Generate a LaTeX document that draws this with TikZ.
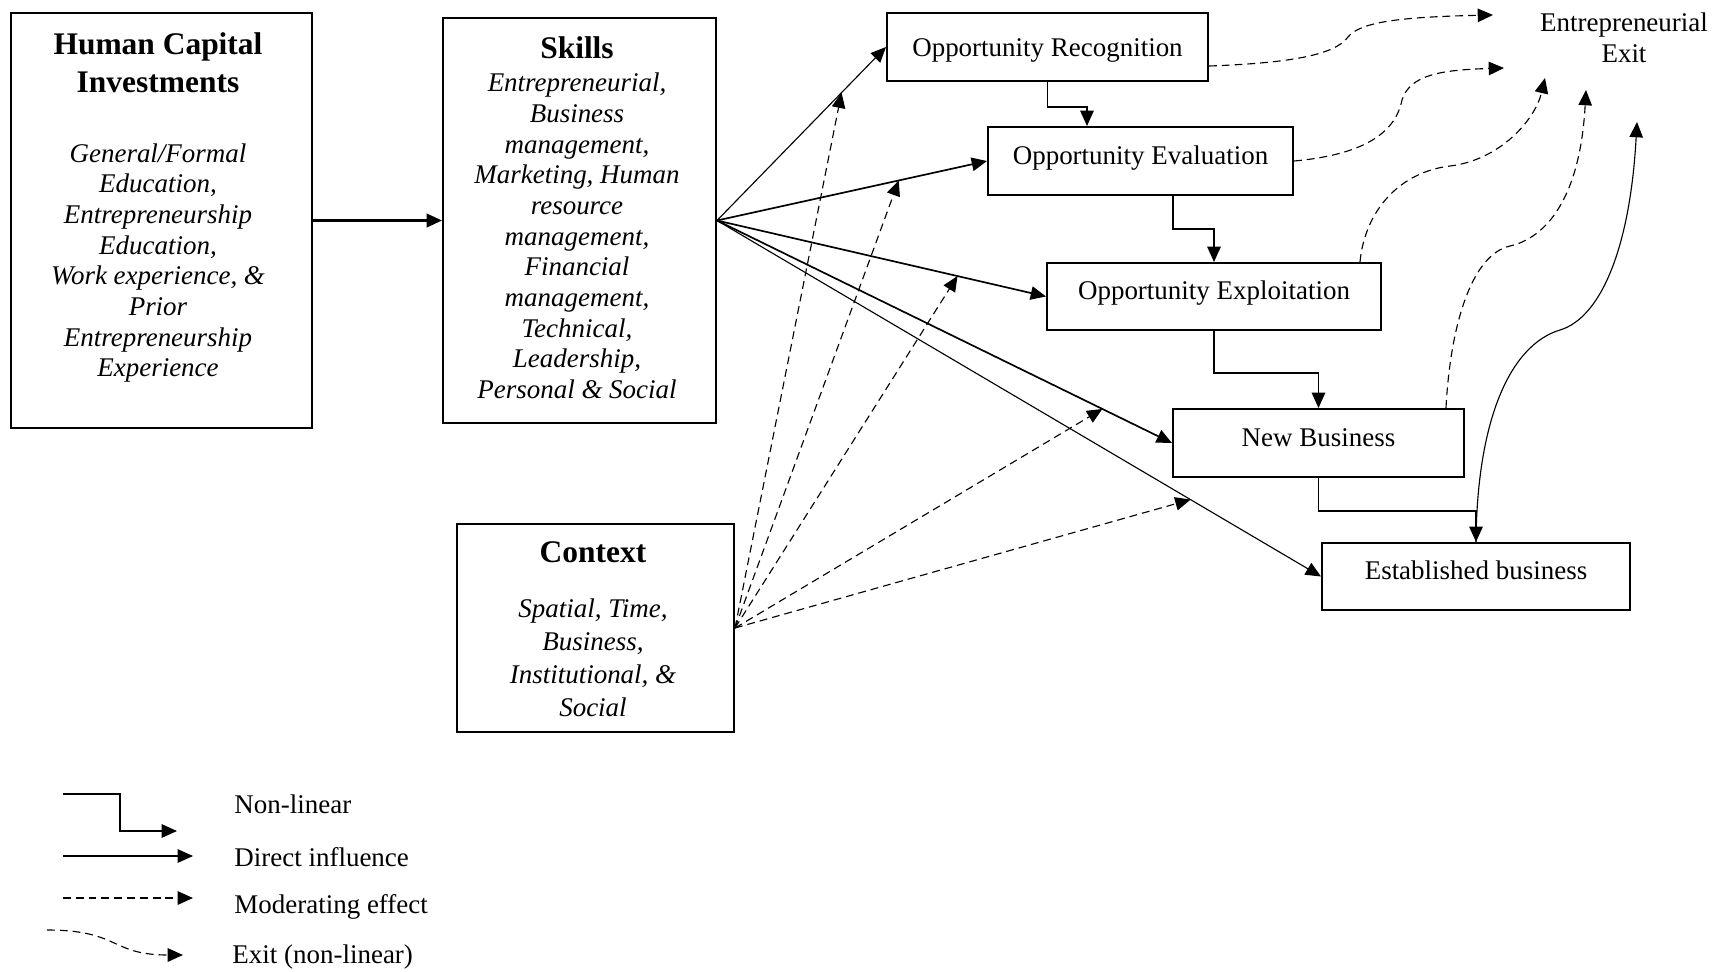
\documentclass[tikz,border=0pt]{standalone}
\usepackage{fontspec}
\setmainfont{Liberation Serif}
\usetikzlibrary{arrows.meta,calc,fit}
\begin{document}
\begin{tikzpicture}[x=0.445pt,y=-0.445pt,
  font=\fontsize{12pt}{13.8pt}\selectfont,
  box/.style={draw, line width=0.9pt, inner sep=0pt},
  obox/.style 2 args={box, minimum width=#1*0.445pt, minimum height=#2*0.445pt, text height=10.8pt, text depth=2.6pt},
  tipst/.style={-{Triangle[length=6.8pt,width=6pt]}},
  direct/.style={tipst, line width=0.5pt},
  directb/.style={tipst, line width=0.75pt},
  nonlin/.style={tipst, line width=0.5pt},
  moder/.style={tipst, line width=0.5pt, dash pattern=on 3.5pt off 2.2pt},
  exitc/.style={moder},
  titletxt/.style={font=\fontsize{14pt}{17pt}\selectfont\bfseries, align=center},
  bodytxt/.style={font=\fontsize{12pt}{13.65pt}\selectfont\itshape, align=center},
  raised/.style={text height=10.8pt, text depth=8pt},
  legtxt/.style={anchor=west, inner sep=0pt}
]
\useasboundingbox (0,0) rectangle (1715,971);

% main boxes
\node[box, fit={(11,13) (312,428)}] (hci) {};
\node[titletxt] (hcit) at (158,63) {Human Capital\\Investments};
\node[bodytxt] (hcib) at (158,263) {General/Formal\\Education,\\Entrepreneurship\\Education,\\Work experience, \&\\Prior\\Entrepreneurship\\Experience};

\node[box, fit={(443,18) (716,423)}] (skills) {};
\node[titletxt] (skillst) at (577,48) {Skills};
\node[bodytxt] (skillsb) at (577,236) {Entrepreneurial,\\Business\\management,\\Marketing, Human\\resource\\management,\\Financial\\management,\\Technical,\\Leadership,\\Personal \& Social};

\node[box, fit={(457,524) (734,732)}] (ctx) {};
\node[titletxt] (ctxt) at (593,552) {Context};
\node[bodytxt, font=\fontsize{12pt}{14.7pt}\selectfont\itshape] (ctxb) at (593,658) {Spatial, Time,\\Business,\\Institutional, \&\\Social};

\node[obox={321}{68}] (or) at (1047.5,47) {Opportunity Recognition};
\node[obox={305}{68}, raised] (oe) at (1140.5,161) {Opportunity Evaluation};
\node[obox={334}{67}, raised] (ox) at (1214,296.5) {Opportunity Exploitation};
\node[obox={291}{68}, raised] (nb) at (1318.5,443) {New Business};
\node[obox={308}{67}, raised] (eb) at (1476,576.5) {Established business};

\node[align=center] (exitlbl) at (1624,38) {Entrepreneurial\\Exit};

% direct influences
\draw[directb, line width=1pt] (hci.east) -- (skills.west);
\draw[direct] (skills.east) -- (or.west);
\draw[directb] (skills.east) -- (oe.west);
\draw[directb] (skills.east) -- (ox.west);
\draw[directb] (skills.east) -- (nb.west);
\draw[direct] (skills.east) -- (eb.west);

% moderating effects
\coordinate (m1) at ($(skills.east)!0.737!(or.west)$);
\coordinate (m2) at ($(skills.east)!0.673!(oe.west)$);
\coordinate (m3) at ($(skills.east)!0.731!(ox.west)$);
\coordinate (m4) at ($(skills.east)!0.847!(nb.west)$);
\coordinate (m5) at ($(skills.east)!0.784!(eb.west)$);
\foreach \m in {m1,m2,m3,m4,m5}{\draw[moder] (ctx.east) -- (\m);}

% non-linear steps
\draw[nonlin] (or.south) -- ++(0,25) -| ($(oe.north west)+(100,0)$);
\draw[nonlin] ($(oe.south west)+(186,0)$) -- ++(0,33) -| (ox.north);
\draw[nonlin] (ox.south) -- ++(0,42) -| (nb.north);
\draw[nonlin] (nb.south) -- ++(0,33) -| (eb.north);

% exits
\coordinate (e1) at (1493,15);
\coordinate (e2) at (1504,68);
\coordinate (e3) at (1545,78);
\coordinate (e4) at (1586,90);
\coordinate (e5) at (1637,122);
\draw[exitc] ($(or.south east)+(0,-16)$) .. controls (1290,63) and (1335,55) .. (1348,37)
   .. controls (1360,22) and (1400,17) .. (e1);
\draw[exitc] (oe.east) .. controls (1360,155) and (1395,135) .. (1402,100)
   .. controls (1410,75) and (1440,70) .. (e2);
\draw[exitc] ($(ox.north west)+(314,0)$) .. controls (1365,210) and (1400,172) .. (1450,166)
   .. controls (1500,160) and (1535,120) .. (e3);
\draw[exitc] ($(nb.north west)+(274,0)$) .. controls (1450,330) and (1470,255) .. (1510,246)
   .. controls (1545,238) and (1580,200) .. (e4);
\draw[direct] (eb.north) .. controls (1477,420) and (1510,345) .. (1560,330)
   .. controls (1600,318) and (1630,250) .. (e5);

% legend
\coordinate (l1a) at (63,794); \coordinate (l1b) at (177,831);
\coordinate (l2a) at (63,856); \coordinate (l2b) at (193,856);
\coordinate (l3a) at (63,898); \coordinate (l3b) at (193,898);
\coordinate (l4a) at (47,930); \coordinate (l4b) at (183,955);
\draw[nonlin] (l1a) -- ++(57,0) |- (l1b);
\draw[direct] (l2a) -- (l2b);
\draw[moder] (l3a) -- (l3b);
\draw[exitc] (l4a) .. controls (120,930) and (110,955) .. (l4b);
\node[legtxt] (lt1) at (234,804) {Non-linear};
\node[legtxt] (lt2) at (234,857) {Direct influence};
\node[legtxt] (lt3) at (234,907) {Moderating effect};
\node[legtxt] (lt4) at (232,957) {Exit (non-linear)};
\end{tikzpicture}
\end{document}
